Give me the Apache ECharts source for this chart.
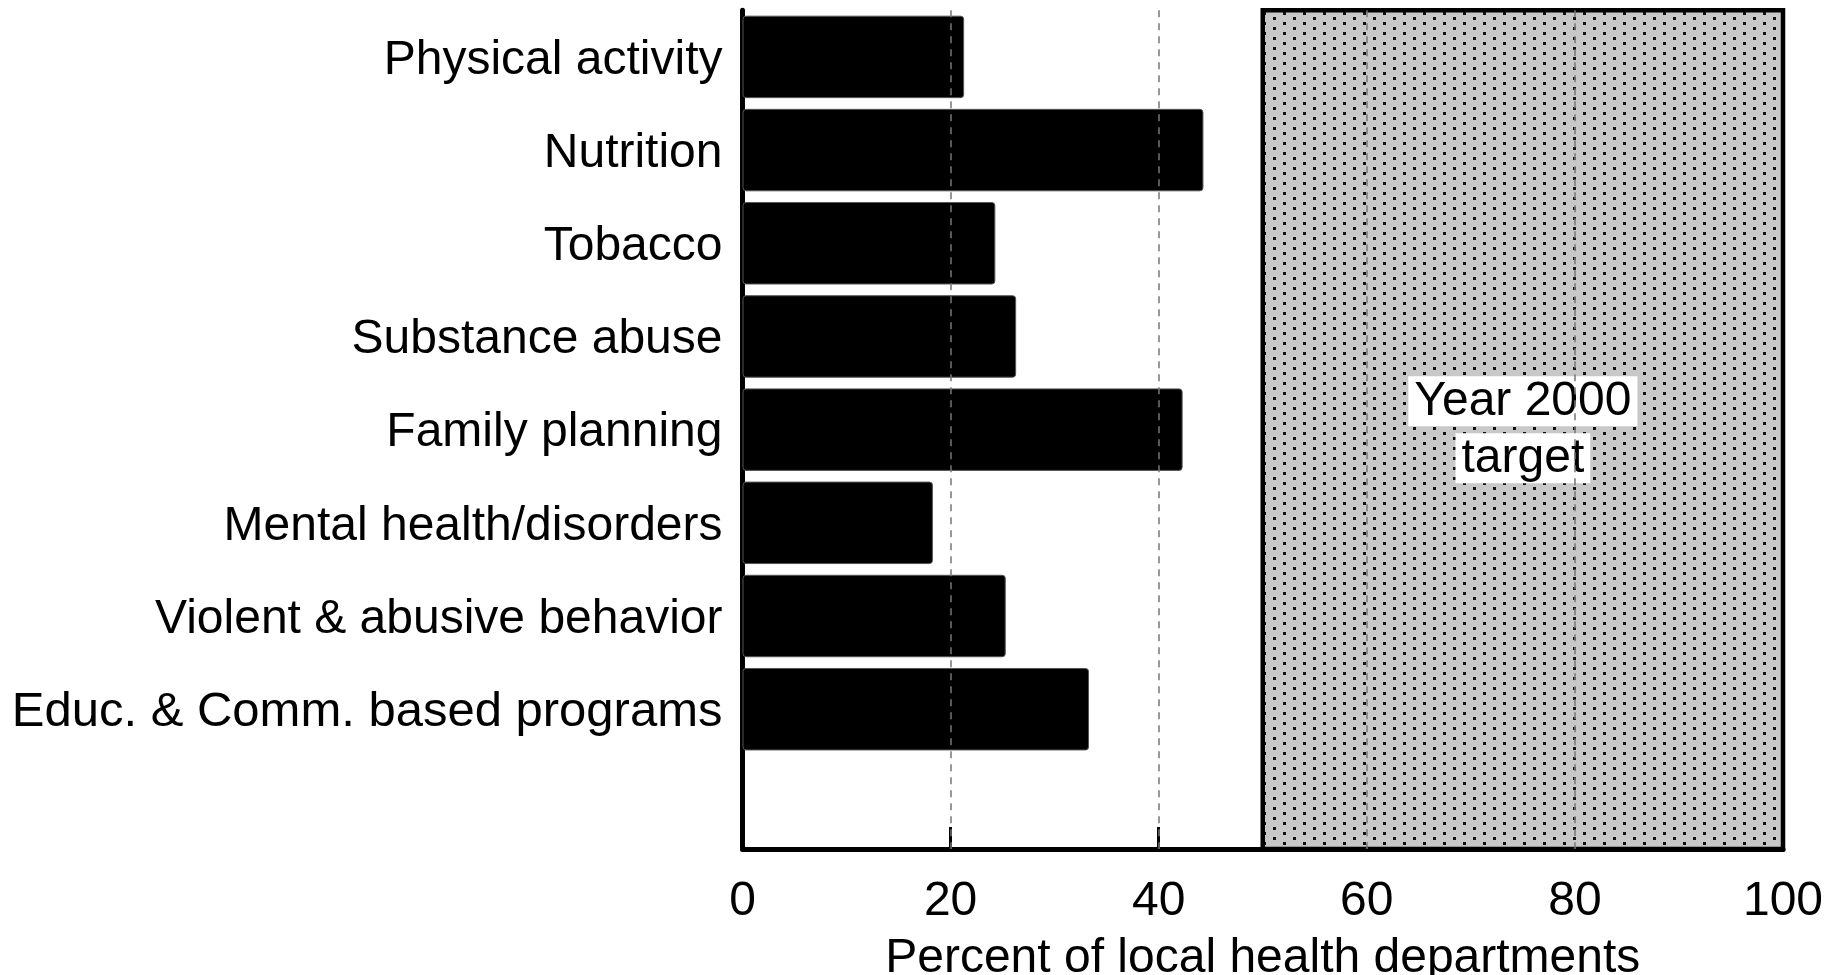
<!DOCTYPE html>
<html>
<head>
<meta charset="utf-8">
<script src="https://cdn.jsdelivr.net/npm/echarts@6/dist/echarts.min.js"></script>
<style>
html,body{margin:0;padding:0;background:#fff;}
#chart{width:1843px;height:975px;}
</style>
</head>
<body>
<div id="chart"></div>
<script>
var categories = ['Physical activity','Nutrition','Tobacco','Substance abuse','Family planning','Mental health/disorders','Violent & abusive behavior','Educ. & Comm. based programs',''];
var values = [21.3, 44.3, 24.3, 26.3, 42.3, 18.3, 25.3, 33.3, '-'];
var xTicks = [0, 20, 40, 60, 80, 100];
var gridValues = [20, 40, 60, 80];
var targetRange = [50, 100];
var targetLabel = ['Year 2000', 'target'];

var FONT = '"Liberation Sans", Arial, Helvetica, sans-serif';

var pc = document.createElement('canvas');
pc.width = 20; pc.height = 10;
var g = pc.getContext('2d');
g.fillStyle = '#c8c8c8';
g.fillRect(0, 0, 20, 10);
g.fillStyle = '#111';
g.fillRect(3, 2, 3, 3);
g.fillRect(13, 7, 3, 3);

var chart = echarts.init(document.getElementById('chart'), null, {renderer: 'canvas'});
chart.setOption({
  animation: false,
  backgroundColor: '#fff',
  grid: {left: 742.5, right: 60, top: 10.3, bottom: 126, containLabel: false, outerBoundsMode: 'none'},
  xAxis: {
    type: 'value', min: 0, max: 100, interval: 20,
    axisLine: {show: true, lineStyle: {color: '#000', width: 5}},
    axisTick: {show: true, inside: true, length: 22, lineStyle: {color: '#000', width: 3}},
    splitLine: {show: false},
    axisLabel: {color: '#000', fontSize: 48, fontFamily: FONT, margin: 29,
      formatter: function (v) { return xTicks.indexOf(v) >= 0 ? String(v) : ''; }},
    name: 'Percent of local health departments',
    nameLocation: 'middle', nameGap: 86,
    nameTextStyle: {color: '#000', fontSize: 48, fontFamily: FONT}
  },
  yAxis: {
    type: 'category', data: categories, inverse: true,
    axisLine: {show: true, lineStyle: {color: '#000', width: 5}},
    axisTick: {show: false},
    axisLabel: {color: '#000', fontSize: 48, fontFamily: FONT, margin: 20, padding: [7, 0, 0, 0],
      formatter: function (v, i) { return i === 7 ? '{w|' + v + '}' : v; },
      rich: {w: {fontSize: 49, fontFamily: FONT, color: '#000'}}},
    splitLine: {show: false}
  },
  series: [
    {
      type: 'line', z: 1, data: [],
      markArea: {
        silent: true,
        itemStyle: {color: {image: pc, repeat: 'repeat'}, borderColor: '#000', borderWidth: 4.5},
        label: {
          show: true, position: 'inside',
          formatter: '{a|' + targetLabel[0] + '}\n{s| }\n{a|' + targetLabel[1] + '}',
          rich: {
            a: {color: '#000', fontSize: 48, fontFamily: FONT, backgroundColor: '#fff', padding: [2, 6, 0, 6], lineHeight: 50},
            s: {fontSize: 6, lineHeight: 7}
          }
        },
        data: [[{xAxis: targetRange[0]}, {xAxis: targetRange[1]}]]
      }
    },
    {
      type: 'bar', z: 2, data: values, barCategoryGap: '11.5%',
      itemStyle: {color: '#000', borderColor: '#555', borderWidth: 1, borderRadius: 3}
    },
    {
      type: 'line', z: 3, data: [],
      markLine: {
        silent: true, symbol: 'none', label: {show: false},
        lineStyle: {color: '#777', type: [7, 6], width: 1.5},
        data: gridValues.map(function (v) { return {xAxis: v}; })
      }
    }
  ]
});
</script>
</body>
</html>
